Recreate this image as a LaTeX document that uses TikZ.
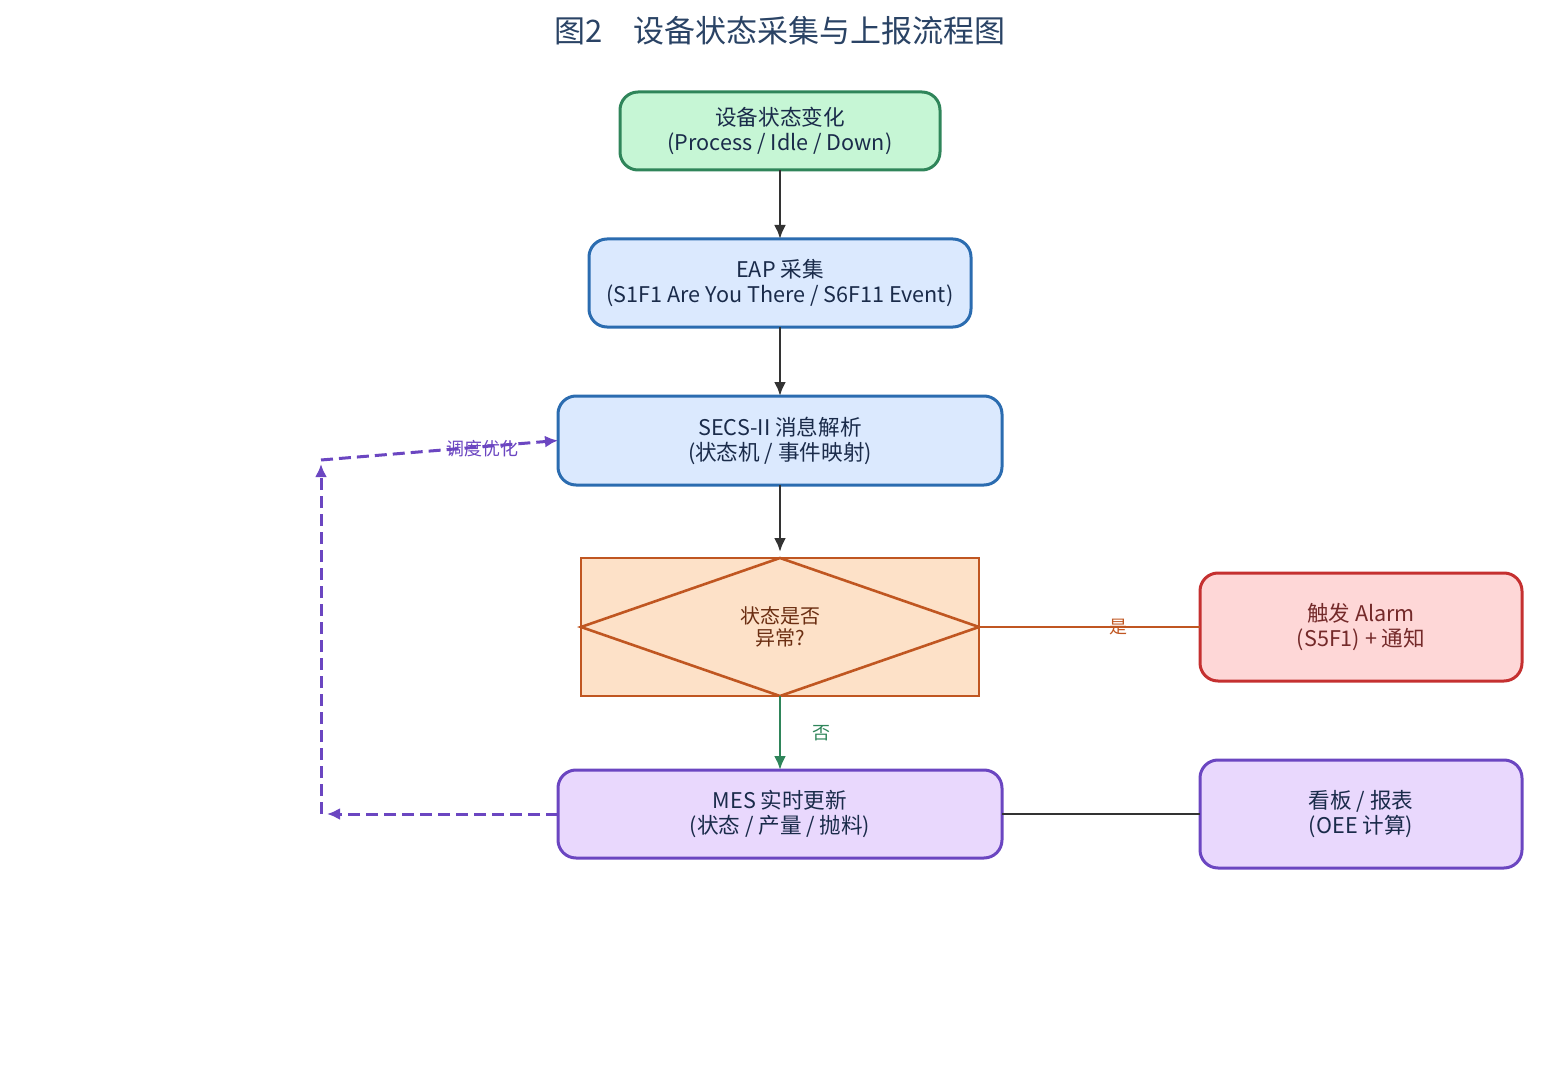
\documentclass[tikz,border=0pt]{standalone}
\usepackage{fontspec}
\setmainfont{Noto Sans CJK SC}
\usetikzlibrary{arrows.meta,positioning,shapes.geometric,calc}
\definecolor{ink}{HTML}{1A2B4A}
\definecolor{titleink}{HTML}{2A4365}
\definecolor{dark}{HTML}{333333}
\definecolor{green}{HTML}{2F855A}
\definecolor{greenfill}{HTML}{C6F6D5}
\definecolor{blue}{HTML}{2B6CB0}
\definecolor{bluefill}{HTML}{DBE9FE}
\definecolor{orange}{HTML}{C05621}
\definecolor{orangefill}{HTML}{FDE1C8}
\definecolor{orangeink}{HTML}{6B2E12}
\definecolor{red}{HTML}{C53030}
\definecolor{redfill}{HTML}{FED7D7}
\definecolor{redink}{HTML}{742A2A}
\definecolor{purple}{HTML}{6B46C1}
\definecolor{purplefill}{HTML}{E9D8FD}
\tikzset{
  box/.style={draw=ink, rounded corners=9pt, line width=1.5pt, outer sep=0pt, align=center, inner sep=2pt, text=ink, font=\fontsize{10.8}{12.5}\selectfont},
  greenbox/.style={box, fill=greenfill, draw=green},
  bluebox/.style={box, fill=bluefill, draw=blue},
  redbox/.style={box, fill=redfill, draw=red, text=redink},
  purplebox/.style={box, fill=purplefill, draw=purple},
  decbox/.style={draw=orange, fill=orangefill, line width=1.3pt, outer sep=0pt, align=center, text=orangeink, font=\fontsize{10}{11}\selectfont, minimum width=199pt, minimum height=69pt},
  title/.style={font=\fontsize{15.5}{18}\selectfont, text=titleink},
  arrow/.style={-{Latex[length=7pt,width=6pt]}, line width=1.4pt, draw=dark},
  greenarrow/.style={-{Latex[length=7pt,width=6pt]}, line width=1.4pt, draw=green},
  orangeline/.style={line width=1.4pt, draw=orange},
  darkline/.style={line width=1.4pt, draw=dark},
  dasharrow/.style={-{Latex[length=6.5pt,width=6pt]}, line width=1.5pt, draw=purple, dash pattern=on 6pt off 3pt},
  smalllabel/.style={font=\fontsize{9}{10}\selectfont},
}
\begin{document}
\begin{tikzpicture}[x=0.5pt,y=-0.5pt]
\useasboundingbox (0,0) rectangle (1560,1065);
\node[title] (t) at (780,31) {图2\quad 设备状态采集与上报流程图};
\node[greenbox, minimum width=160pt, minimum height=39pt] (chg) at (780,131) {设备状态变化\\(Process / Idle / Down)};
\node[bluebox, below=34.5pt of chg, minimum width=191pt, minimum height=44pt] (eap) {EAP 采集\\(S1F1 Are You There / S6F11 Event)};
\node[bluebox, below=34.5pt of eap, minimum width=222pt, minimum height=44.5pt] (secs) {SECS-II 消息解析\\(状态机 / 事件映射)};
\node[decbox, below=36.5pt of secs] (dec) {状态是否\\异常?};
\draw[orange, line width=1.3pt] (dec.north) -- (dec.east) -- (dec.south) -- (dec.west) -- cycle;
\node[redbox, right=110.5pt of dec, minimum width=161pt, minimum height=54pt] (alarm) {触发 Alarm\\(S5F1) + 通知};
\node[purplebox, below=37pt of dec, minimum width=222pt, minimum height=44pt] (mes) {MES 实时更新\\(状态 / 产量 / 抛料)};
\node[purplebox, right=99pt of mes, minimum width=161pt, minimum height=54pt] (board) {看板 / 报表\\(OEE 计算)};
\coordinate (fbl) at (321,814);
\coordinate (fbt) at (321,460);
% main flow
\draw[arrow] (chg) -- (eap);
\draw[arrow] (eap) -- (secs);
\draw[arrow, shorten >=3pt] (secs) -- (dec);
\draw[greenarrow] (dec) -- node[smalllabel, text=green, right=12pt]{否} (mes);
\draw[orangeline] (dec.east) -- node[smalllabel, text=orange, pos=0.63]{是} (alarm);
\draw[darkline] (mes) -- (board);
% feedback loop
\draw[dasharrow, shorten >=3pt] (mes.west) -- (fbl);
\draw[dasharrow, shorten >=2pt] (fbl) -- (fbt);
\draw[dasharrow] (fbt) -- node[smalllabel, text=purple, pos=0.68, yshift=-1pt]{调度优化} (secs.west);
\end{tikzpicture}
\end{document}
